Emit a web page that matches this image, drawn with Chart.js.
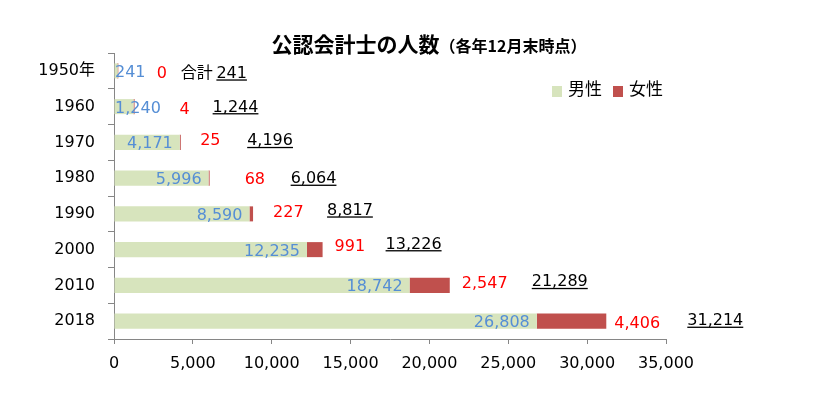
<!DOCTYPE html>
<html><head><meta charset="utf-8">
<script src="https://cdn.jsdelivr.net/npm/chart.js@4/dist/chart.umd.min.js"></script>
<style>html,body{margin:0;padding:0;background:#fff}#wrap{width:840px;height:400px}</style>
</head><body><div id="wrap"><canvas id="c" width="840" height="400"></canvas></div>
<script>
const categories = ['1950年','1960','1970','1980','1990','2000','2010','2018'];
const maleValues = [241,1240,4171,5996,8590,12235,18742,26808];
const femaleValues = [0,4,25,68,227,991,2547,4406];
const totalValues = [241,1244,4196,6064,8817,13226,21289,31214];
const seriesNames = ['男性','女性'];
const xTickMin = 0, xTickMax = 35000, xTickStep = 5000;
const titleMain = '公認会計士の人数';
const titleSub = '（各年12月末時点）';
const totalPrefix = '合計 ';

const FONT = "'DejaVu Sans', 'Noto Sans CJK JP', sans-serif";
const CJK = "'Noto Sans CJK JP', 'DejaVu Sans', sans-serif";
const fmt = v => v.toLocaleString('en-US');

// label placement nudges (pixels, layout only)
const labelLayout = {
  maleGap: 7,
  femaleGap: [39,46,20,35,20,12,12,8],
  femaleDy: [1,1,-3,0,-3,-5,-3,1],
  totalGap: [63,79,67,81,74,63,82,81],
  totalDy: [1,-1,-3,-1,-5,-7,-5,-2]
};

const labelsPlugin = {
  id: 'labels',
  afterDatasetsDraw(chart) {
    const ctx = chart.ctx;
    const m0 = chart.getDatasetMeta(0), m1 = chart.getDatasetMeta(1);
    const ca = chart.chartArea;
    ctx.save();
    ctx.font = '16px ' + FONT;
    ctx.textBaseline = 'alphabetic';
    ctx.textAlign = 'left';
    for (let i = 0; i < categories.length; i++) {
      const yc = m0.data[i].y;
      const maleEnd = m0.data[i].x;
      const totEnd = chart.scales.x.getPixelForValue(totalValues[i]);
      // male
      const mt = fmt(maleValues[i]);
      const mw = ctx.measureText(mt).width;
      const mx = Math.max(maleEnd - labelLayout.maleGap - mw, ca.left + 1);
      ctx.fillStyle = '#558ED5';
      ctx.fillText(mt, mx, yc + 6);
      // female
      ctx.fillStyle = '#FF0000';
      ctx.fillText(fmt(femaleValues[i]), totEnd + labelLayout.femaleGap[i], yc + 6 + labelLayout.femaleDy[i]);
      // total
      let tx = totEnd + labelLayout.totalGap[i];
      const ty = yc + 6 + labelLayout.totalDy[i];
      ctx.fillStyle = '#000';
      if (i === 0) {
        ctx.font = '16px ' + CJK;
        ctx.fillText(totalPrefix, tx, ty);
        tx += ctx.measureText(totalPrefix).width;
        ctx.font = '16px ' + FONT;
      }
      const tt = fmt(totalValues[i]);
      const tw = ctx.measureText(tt).width;
      ctx.fillText(tt, tx, ty);
      ctx.fillRect(tx, ty + 1.5, tw, 1.3);
    }
    // title
    ctx.fillStyle = '#000';
    ctx.font = 'bold 21px ' + CJK;
    const w1 = ctx.measureText(titleMain).width;
    ctx.font = 'bold 16px ' + CJK;
    const w2 = ctx.measureText(titleSub).width;
    let sx = 429 - (w1 + w2) / 2;
    ctx.font = 'bold 21px ' + CJK;
    ctx.fillText(titleMain, sx, 52);
    ctx.font = 'bold 16px ' + CJK;
    ctx.fillText(titleSub, sx + w1, 52);
    // legend
    ctx.font = '17px ' + CJK;
    let lx = 552;
    chart.data.datasets.forEach(ds => {
      ctx.fillStyle = ds.backgroundColor;
      ctx.fillRect(lx, 86, 10, 11);
      ctx.fillStyle = '#000';
      ctx.fillText(ds.label, lx + 16, 95);
      lx += 16 + ctx.measureText(ds.label).width + 11;
    });
    ctx.restore();
  }
};

new Chart(document.getElementById('c'), {
  type: 'bar',
  data: {
    labels: categories,
    datasets: [
      { label: seriesNames[0], data: maleValues, backgroundColor: '#D7E4BD', borderWidth: 0 },
      { label: seriesNames[1], data: femaleValues, backgroundColor: '#C0504D', borderWidth: 0, minBarLength: 1 }
    ]
  },
  options: {
    indexAxis: 'y',
    responsive: false,
    animation: false,
    devicePixelRatio: 1,
    layout: { padding: { left: 0, right: 174, top: 53, bottom: 0 } },
    datasets: { bar: { categoryPercentage: 1, barPercentage: 0.42 } },
    plugins: { legend: { display: false }, title: { display: false }, tooltip: { enabled: false } },
    scales: {
      x: {
        type: 'linear', stacked: true, min: xTickMin, max: xTickMax,
        ticks: { stepSize: xTickStep, callback: v => fmt(v), color: '#000', font: { family: FONT, size: 16 }, padding: 10, maxRotation: 0 },
        grid: { drawOnChartArea: false, drawTicks: true, tickLength: 5, color: '#868686' },
        border: { color: '#868686' },
        afterFit: s => { s.height = 61; }
      },
      y: {
        stacked: true,
        ticks: { color: '#000', font: { family: FONT, size: 16 }, padding: 13 },
        grid: { drawOnChartArea: false, drawTicks: true, tickLength: 6, color: '#868686', offset: true },
        border: { color: '#868686' },
        afterFit: s => { s.width = 114; }
      }
    }
  },
  plugins: [labelsPlugin]
});
</script></body></html>
